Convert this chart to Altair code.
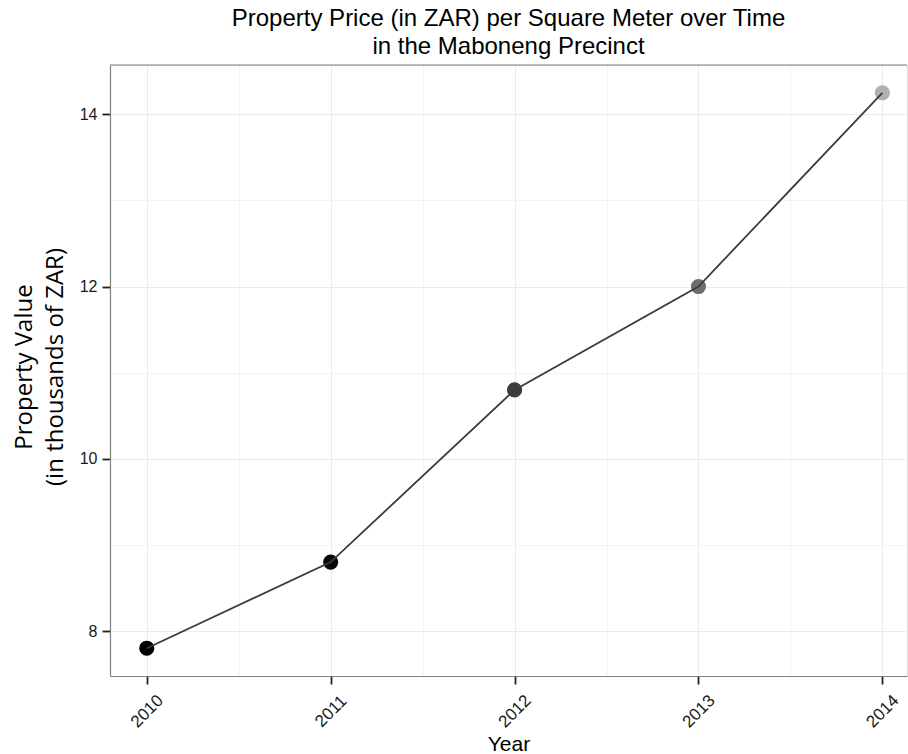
import altair as alt
import pandas as pd

# ---- data ----
years = [2010, 2011, 2012, 2013, 2014]
values = [7.8, 8.8, 10.8, 12.0, 14.25]
point_palette = ["#000000", "#0a0a0a", "#3c3c3c", "#6e6e6e", "#b0b0b0"]
x_tick_values = [2010, 2010.5, 2011, 2011.5, 2012, 2012.5, 2013, 2013.5, 2014]
y_tick_values = [8, 9, 10, 11, 12, 13, 14]

df = pd.DataFrame({"Year": years, "Value": values})

W, H = 797, 611
border = "#7f7f7f"

x_scale = alt.Scale(domain=[2009.8, 2014.134], nice=False, zero=False)
y_scale = alt.Scale(domain=[7.4775, 14.5725], nice=False, zero=False)

x_axis = alt.Axis(
    values=x_tick_values,
    labelExpr="datum.value % 1 == 0 ? format(datum.value, 'd') : ''",
    labelAngle=-45, labelAlign="center", labelBaseline="middle",
    labelPadding=27, labelFlush=False, labelOverlap=False,
    labelFont="Liberation Sans", labelFontSize=17, labelColor="#1a1a1a",
    tickSize=8, tickWidth=1.8,
    tickColor={"condition": {"test": "datum.value % 1 != 0", "value": "transparent"}, "value": "#222222"},
    grid=True,
    gridColor={"condition": {"test": "datum.value % 1 != 0", "value": "#f3f3f3"}, "value": "#ebebeb"},
    gridWidth=1,
    domainColor=border, domainWidth=1.2,
    title="Year", titleFont="Liberation Sans", titleFontSize=21, titleFontWeight="normal",
    titleColor="#000000", titleY=74, titleBaseline="alphabetic",
)

y_axis = alt.Axis(
    values=y_tick_values,
    labelExpr="datum.value % 2 == 0 ? format(datum.value, 'd') : ''",
    labelPadding=5, labelOverlap=False, labelFlush=False,
    labelFont="Liberation Sans", labelFontSize=16, labelColor="#1a1a1a",
    tickSize=8, tickWidth=1.8,
    tickColor={"condition": {"test": "datum.value % 2 != 0", "value": "transparent"}, "value": "#222222"},
    grid=True,
    gridColor={"condition": {"test": "datum.value % 2 != 0", "value": "#f3f3f3"}, "value": "#ebebeb"},
    gridWidth=1,
    domainColor=border, domainWidth=1.2,
    title=["Property Value", "(in thousands of ZAR)"],
    titleFont="Open Sans", titleFontSize=24, titleFontWeight="normal", titleColor="#000000",
    titleX=-86, titleY=H / 2 - 4, titleBaseline="middle", titleAlign="center", titleLineHeight=31,
)

base = alt.Chart(df)

points = base.mark_point(filled=True, size=230, opacity=1).encode(
    x=alt.X("Year:Q", scale=x_scale, axis=x_axis),
    y=alt.Y("Value:Q", scale=y_scale, axis=y_axis),
    color=alt.Color("Year:O", scale=alt.Scale(domain=years, range=point_palette), legend=None),
)

line = base.mark_line(color="#3c3c3c", strokeWidth=1.8).encode(
    x=alt.X("Year:Q", scale=x_scale),
    y=alt.Y("Value:Q", scale=y_scale),
)

top_border = alt.Chart(alt.Data(values=[{}])).mark_rule(color=border, strokeWidth=1.2).encode(
    x=alt.value(0), x2=alt.value(W), y=alt.value(0)
)

chart = alt.layer(points, line, top_border).properties(
    width=W,
    height=H,
    padding={"left": 110, "top": 65, "right": 1, "bottom": 78},
    autosize=alt.AutoSizeParams(type="none"),
    title=alt.TitleParams(
        ["Property Price (in ZAR) per Square Meter over Time", "in the Maboneng Precinct"],
        font="Liberation Sans", fontSize=24, fontWeight="normal", color="#000000",
        anchor="middle", baseline="bottom", lineHeight=28, offset=3, dy=22,
    ),
).configure_view(stroke=None).configure(background="white")

chart.save("out.html", embed_options={"renderer": "svg", "actions": False})
